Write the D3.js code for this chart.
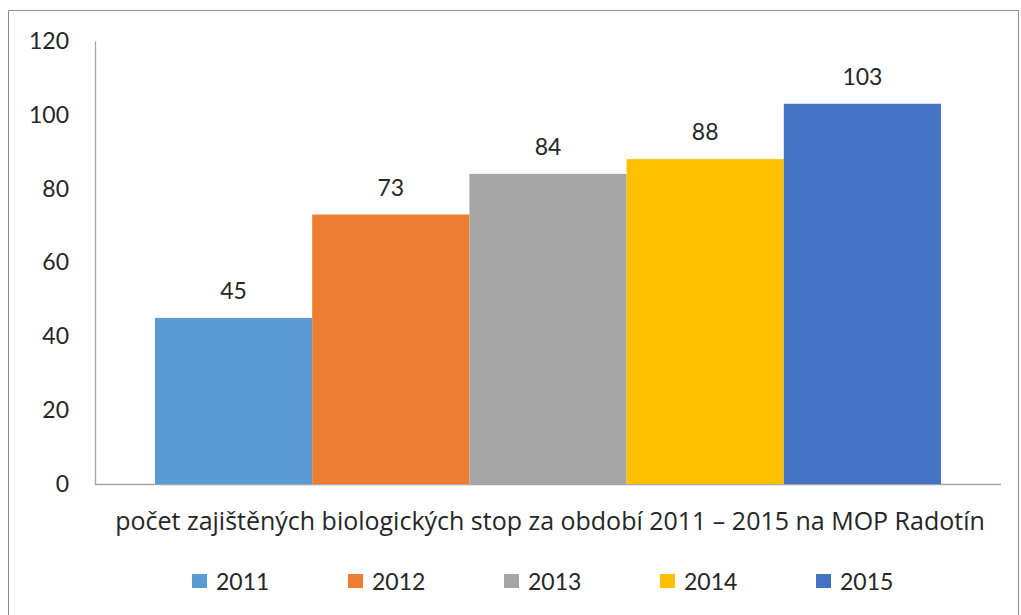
<!DOCTYPE html>
<html>
<head>
<meta charset="utf-8">
<script src="https://cdn.jsdelivr.net/npm/d3@7"></script>
<style>
  body { margin: 0; background: #fff; }
  svg { display: block; font-family: Lato, "Open Sans", sans-serif; }
</style>
</head>
<body>
<svg id="chart"></svg>
<script>
// data
const years = ["2011", "2012", "2013", "2014", "2015"];
const counts = [45, 73, 84, 88, 103];
const barColors = ["#5B9BD5", "#ED7D31", "#A5A5A5", "#FFC000", "#4472C4"];
const yTicks = [0, 20, 40, 60, 80, 100, 120];
const categoryLabel = "počet zajištěných biologických stop za období 2011 – 2015 na MOP Radotín";

const width = 1021, height = 615;
const margin = {left: 95, right: 20, top: 41, bottom: 131};

const svg = d3.select("#chart").attr("width", width).attr("height", height);

// outer frame (no bottom edge visible in the picture)
svg.append("path")
  .attr("d", `M8.5,${height}V10.5H1018.5V${height}`)
  .attr("fill", "none")
  .attr("stroke", "#8c8c8c")
  .attr("stroke-width", 1);

const y = d3.scaleLinear().domain([0, 120]).range([484, margin.top]);

// one category, five series side by side
const outer = d3.scaleBand().domain(["cat"]).range([margin.left, 1001]).paddingOuter(0.0763).paddingInner(0);
const inner = d3.scaleBand().domain(years).range([0, outer.bandwidth()]).padding(0);

const rows = years.map((yr, i) => ({year: yr, value: counts[i], color: barColors[i]}));

// y axis
const yAxis = d3.axisLeft(y).tickValues(yTicks).tickSize(0).tickPadding(26);
const gy = svg.append("g").attr("transform", `translate(${margin.left},0)`).call(yAxis);
gy.select(".domain").attr("stroke", "#a6a6a6").attr("stroke-width", 1.3);
gy.selectAll("text").attr("font-size", 23).attr("fill", "#262626").attr("font-family", "Lato, sans-serif");

// x baseline
svg.append("line")
  .attr("x1", margin.left).attr("x2", 1001)
  .attr("y1", y(0) + 0.5).attr("y2", y(0) + 0.5)
  .attr("stroke", "#a6a6a6").attr("stroke-width", 1.3);

const x0 = outer("cat");
svg.append("g").selectAll("rect")
  .data(rows)
  .join("rect")
  .attr("x", d => x0 + inner(d.year))
  .attr("y", d => y(d.value))
  .attr("width", inner.bandwidth())
  .attr("height", d => y(0) - y(d.value))
  .attr("fill", d => d.color);

// value labels
svg.append("g").selectAll("text")
  .data(rows)
  .join("text")
  .attr("x", d => x0 + inner(d.year) + inner.bandwidth() / 2)
  .attr("y", d => y(d.value) - 19)
  .attr("text-anchor", "middle")
  .attr("font-size", 23)
  .attr("fill", "#262626")
  .text(d => d.value);

// category label, sized so it spans ~870px like the original
const catText = svg.append("text")
  .attr("x", x0 + outer.bandwidth() / 2 + 2)
  .attr("y", 530)
  .attr("text-anchor", "middle")
  .attr("font-family", "'Open Sans', sans-serif")
  .attr("font-size", 22)
  .attr("fill", "#262626")
  .text(categoryLabel);
let len = catText.node().getComputedTextLength();
catText.attr("font-size", 22 * 870 / len);

// legend
const legend = svg.append("g").attr("transform", "translate(192,574)");
const item = legend.selectAll("g")
  .data(rows)
  .join("g")
  .attr("transform", (d, i) => `translate(${i * 156},0)`);
item.append("rect")
  .attr("width", 15).attr("height", 14)
  .attr("fill", d => d.color);
item.append("text")
  .attr("x", 24).attr("y", 16)
  .attr("font-size", 23)
  .attr("fill", "#262626")
  .text(d => d.year);
</script>
</body>
</html>
